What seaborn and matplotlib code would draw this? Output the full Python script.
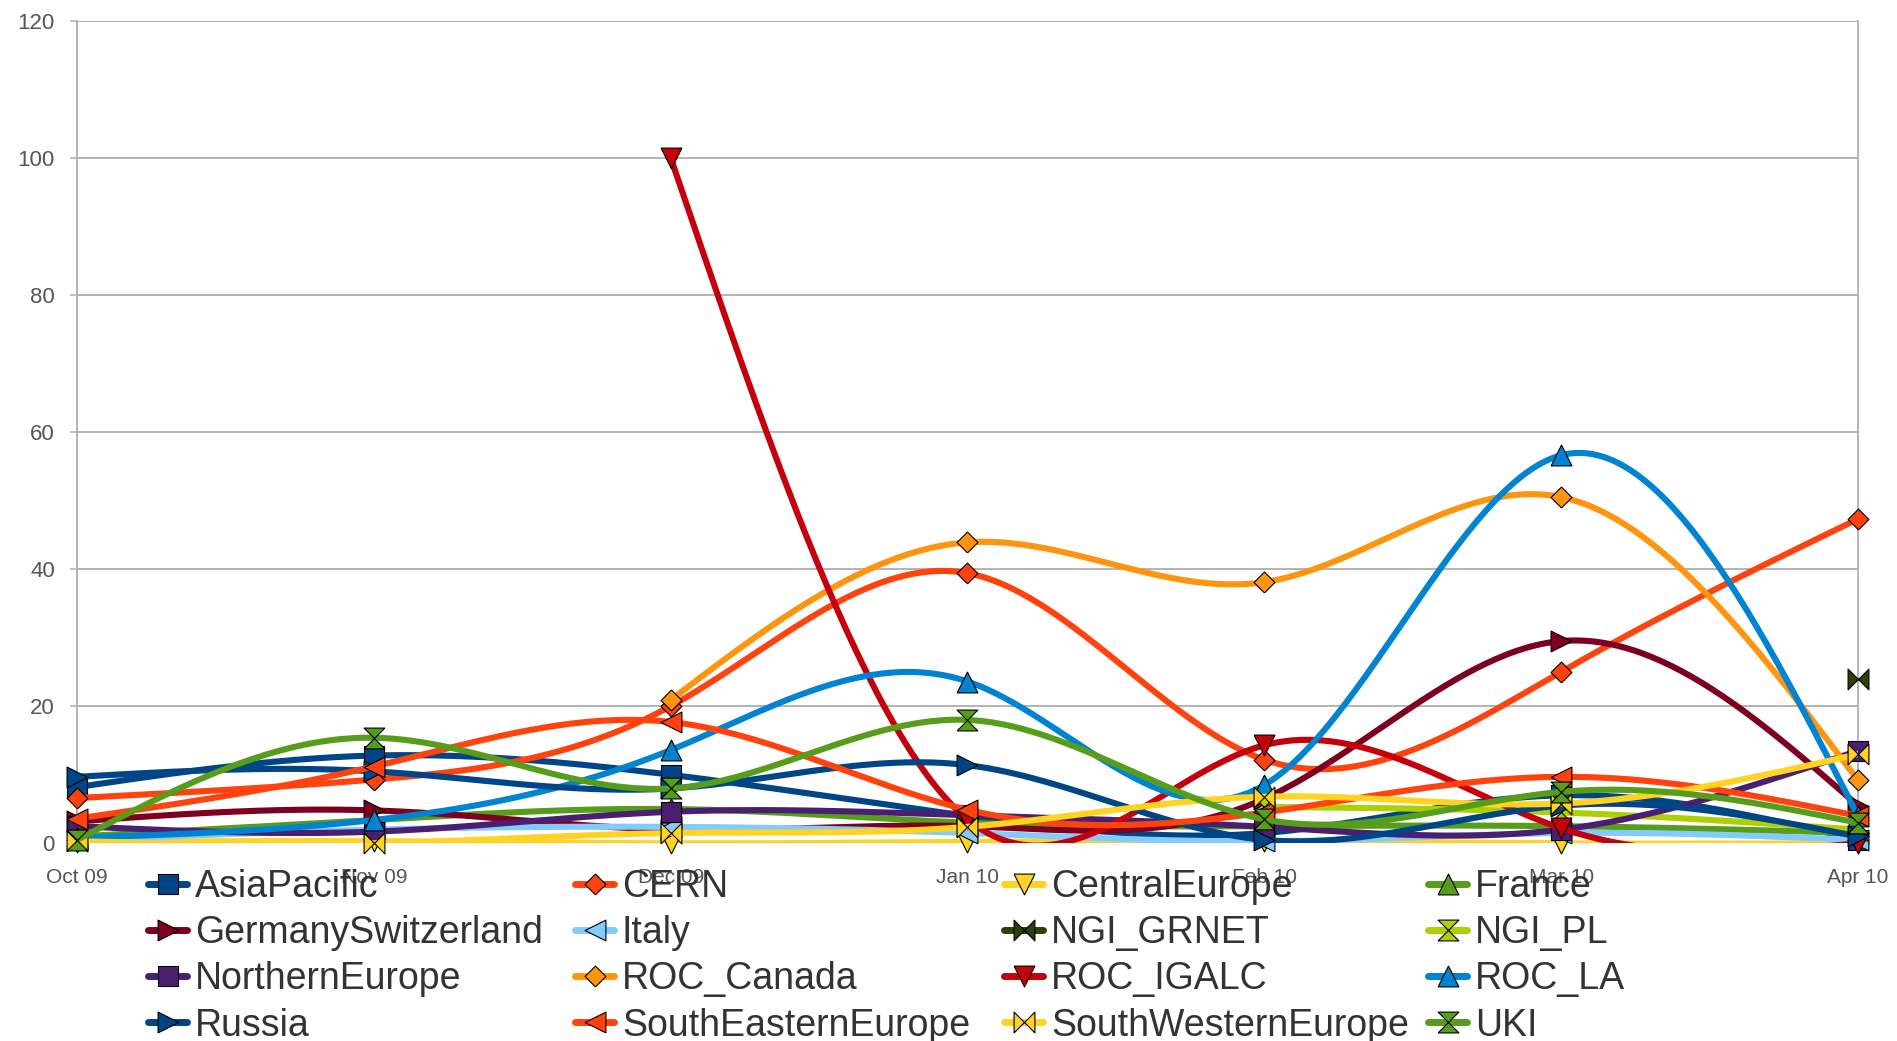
import numpy as np
import pandas as pd
import matplotlib.pyplot as plt
import seaborn as sns
from matplotlib.lines import Line2D

# Valeurs (une liste par série)
months = ["Oct 09", "Nov 09", "Dec 09", "Jan 10", "Feb 10", "Mar 10", "Apr 10"]
nan = np.nan

asia_pacific = [8.2, 12.8, 10.0, 4.0, 1.5, 7.0, 0.5]
cern = [6.6, 9.3, 20.0, 39.4, 12.2, 25.0, 47.3]
central_europe = [0.2, 0.3, 0.0, 0.2, 0.3, 0.0, 0.0]
france = [1.0, 3.4, 5.0, 3.0, 2.5, 2.5, 1.5]
germany_switzerland = [3.2, 4.8, 2.0, 2.5, 6.5, 29.5, 5.5]
italy = [0.5, 2.0, 2.4, 1.5, 0.3, 1.5, 0.5]
ngi_grnet = [nan, nan, nan, nan, nan, nan, 24.0]
ngi_pl = [nan, nan, nan, nan, 5.3, 4.5, 2.0]
northern_europe = [2.5, 1.7, 4.6, 4.1, 2.4, 2.0, 13.5]
roc_canada = [nan, nan, 20.9, 43.9, 38.1, 50.5, 9.2]
roc_igalc = [nan, nan, 100.0, 3.5, 14.3, 2.2, 0.0]
roc_la = [0.8, 3.4, 13.6, 23.6, 8.5, 56.6, 4.0]
russia = [9.7, 10.5, 8.0, 11.4, 0.5, 5.5, 1.0]
south_eastern_europe = [3.6, 11.2, 17.7, 4.9, 4.5, 9.7, 4.0]
south_western_europe = [0.3, 0.0, 1.5, 2.4, 6.8, 5.8, 13.0]
uki = [0.5, 15.4, 8.0, 18.0, 3.5, 7.5, 3.0]

series_names = ["AsiaPacific", "CERN", "CentralEurope", "France",
                "GermanySwitzerland", "Italy", "NGI_GRNET", "NGI_PL",
                "NorthernEurope", "ROC_Canada", "ROC_IGALC", "ROC_LA",
                "Russia", "SouthEasternEurope", "SouthWesternEurope", "UKI"]
series_values = [asia_pacific, cern, central_europe, france,
                 germany_switzerland, italy, ngi_grnet, ngi_pl,
                 northern_europe, roc_canada, roc_igalc, roc_la,
                 russia, south_eastern_europe, south_western_europe, uki]

# Palette et symboles par défaut d'OpenOffice
colors = ["#004586", "#ff420e", "#ffd320", "#579d1c", "#7e0021", "#83caff",
          "#314004", "#aecf00", "#4b1f6f", "#ff950e", "#c5000b", "#0084d1",
          "#004586", "#ff420e", "#ffd320", "#579d1c"]
sym_square = [(-1, -1), (1, -1), (1, 1), (-1, 1), (-1, -1)]
sym_diamond = [(0, -1), (1, 0), (0, 1), (-1, 0), (0, -1)]
sym_down = [(-1, 1), (1, 1), (0, -1), (-1, 1)]
sym_up = [(-1, -1), (1, -1), (0, 1), (-1, -1)]
sym_right = [(-1, -1), (1, 0), (-1, 1), (-1, -1)]
sym_left = [(1, -1), (-1, 0), (1, 1), (1, -1)]
sym_bowtie = [(-1, -1), (1, 1), (1, -1), (-1, 1), (-1, -1)]
sym_hourglass = [(-1, -1), (1, 1), (-1, 1), (1, -1), (-1, -1)]
symbols = [sym_square, sym_diamond, sym_down, sym_up, sym_right, sym_left,
           sym_bowtie, sym_hourglass] * 2


def natural_spline(xs, ys, n=60):
    """Spline cubique naturelle (lissage des courbes comme dans OpenOffice)."""
    xs = np.asarray(xs, float)
    ys = np.asarray(ys, float)
    k = len(xs)
    if k < 3:
        return xs, ys
    h = np.diff(xs)
    A = np.zeros((k, k))
    r = np.zeros(k)
    A[0, 0] = A[-1, -1] = 1
    for i in range(1, k - 1):
        A[i, i - 1] = h[i - 1]
        A[i, i] = 2 * (h[i - 1] + h[i])
        A[i, i + 1] = h[i]
        r[i] = 6 * ((ys[i + 1] - ys[i]) / h[i] - (ys[i] - ys[i - 1]) / h[i - 1])
    M = np.linalg.solve(A, r)
    out_x, out_y = [], []
    for i in range(k - 1):
        t = np.linspace(xs[i], xs[i + 1], n)
        a = xs[i + 1] - t
        b = t - xs[i]
        y = (M[i] * a ** 3 + M[i + 1] * b ** 3) / (6 * h[i]) \
            + (ys[i] / h[i] - M[i] * h[i] / 6) * a \
            + (ys[i + 1] / h[i] - M[i + 1] * h[i] / 6) * b
        out_x.extend(t)
        out_y.extend(y)
    return np.array(out_x), np.array(out_y)


sns.set_theme(style="white")
plt.rcParams['font.family'] = ['Liberation Sans', 'DejaVu Sans']

fig = plt.figure(figsize=(18.97, 10.41), dpi=100)
ax = fig.add_axes([0.0406, 0.1899, 0.9388, 0.7903])

x_idx = np.arange(len(months))
for i, (name, vals) in enumerate(zip(series_names, series_values)):
    df = pd.DataFrame({"x": x_idx, "y": vals}).dropna()
    if len(df) > 1:
        sx, sy = natural_spline(df["x"], df["y"])
        sns.lineplot(x=sx, y=sy, color=colors[i], lw=4.4, sort=False,
                     estimator=None, ax=ax, zorder=3 + 2 * i)
    sns.scatterplot(x=df["x"], y=df["y"], marker=symbols[i], s=225,
                    color=colors[i], edgecolor="black", linewidth=0.8,
                    ax=ax, zorder=4 + 2 * i, clip_on=False, legend=False)

ax.set_xlim(0, 6)
ax.set_ylim(0, 120)
ax.set_yticks(np.arange(0, 121, 20))
ax.set_xticks(x_idx)
ax.set_xticklabels(months)
ax.set_xlabel("")
ax.set_ylabel("")
ax.yaxis.grid(True, color="#b3b3b3", lw=1.4, zorder=0)
ax.xaxis.grid(False)
for side in ["left", "right"]:
    ax.spines[side].set_color("#b3b3b3")
    ax.spines[side].set_linewidth(1.4)
for side in ["top", "bottom"]:
    ax.spines[side].set_visible(False)
ax.tick_params(axis="y", left=True, length=5, width=1.2, color="#b3b3b3",
               pad=11, labelsize=16, labelcolor="#555555")
ax.tick_params(axis="x", bottom=True, length=5, width=1.2, color="#b3b3b3",
               pad=13, labelsize=15, labelcolor="#555555")

# Légende sur 4 colonnes, lue ligne par ligne
col_x = [0.078, 0.3031, 0.5293, 0.7528]
for c in range(4):
    handles = []
    labels = []
    for r in range(4):
        i = r * 4 + c
        handles.append(Line2D([], [], color=colors[i], lw=5, marker=symbols[i],
                              markersize=15, markeredgecolor="black",
                              markeredgewidth=0.8))
        labels.append(series_names[i])
    leg = fig.legend(handles, labels, loc="upper left",
                     bbox_to_anchor=(col_x[c], 0.165), frameon=False,
                     fontsize=27, handlelength=1.05, handletextpad=0.2,
                     labelspacing=0.27, borderpad=0, borderaxespad=0)
    for t in leg.get_texts():
        t.set_color("#333333")

fig.savefig("out.png", dpi=100)
